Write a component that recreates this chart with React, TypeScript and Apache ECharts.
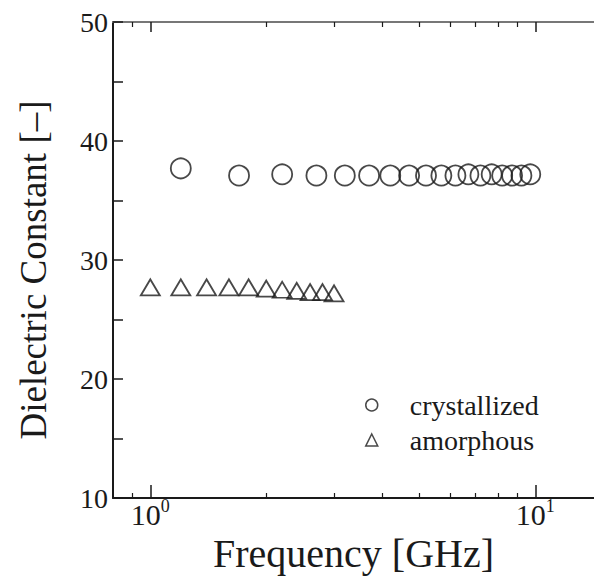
import React, { useEffect, useRef } from "react";
import * as echarts from "echarts";

const crystallizedFreq = [1.2, 1.7, 2.2, 2.7, 3.2, 3.7, 4.2, 4.7, 5.2, 5.7, 6.2, 6.7, 7.2, 7.7, 8.2, 8.7, 9.2, 9.7];
const crystallizedEps = [37.7, 37.1, 37.2, 37.1, 37.1, 37.1, 37.1, 37.1, 37.1, 37.1, 37.1, 37.2, 37.1, 37.2, 37.1, 37.1, 37.1, 37.2];
const amorphousFreq = [1.0, 1.2, 1.4, 1.6, 1.8, 2.0, 2.2, 2.4, 2.6, 2.8, 3.0];
const amorphousEps = [27.7, 27.7, 27.7, 27.7, 27.7, 27.6, 27.5, 27.4, 27.3, 27.3, 27.2];

const xMajorTicks = [1, 10];
const xMinorTicks = [0.9, 2, 3, 4, 5, 6, 7, 8, 9];
const X_MIN = 0.8;
const X_MAX = 14.2;

const FONT = "Liberation Serif";
const INK = "#1a1a1a";

export default function App() {
  const ref = useRef<HTMLDivElement>(null);
  useEffect(() => {
    document.body.style.margin = "0";
    const chart = echarts.init(ref.current!, undefined, { renderer: "svg" });
    const baseX = {
      type: "log" as const,
      min: X_MIN,
      max: X_MAX,
      gridIndex: 0,
      splitLine: { show: false },
      minorTick: { show: false },
    };
    chart.setOption({
      animation: false,
      backgroundColor: "#fff",
      grid: { left: 113, top: 22, right: 0, bottom: 78, outerBoundsMode: "none", containLabel: false },
      legend: {
        orient: "vertical",
        left: 365,
        top: 391,
        padding: 0,
        itemWidth: 12,
        itemHeight: 12,
        itemGap: 7,
        textStyle: { fontFamily: FONT, fontSize: 28, color: INK, lineHeight: 28, padding: [0, 0, 0, 27] },
        data: [
          { name: "crystallized", icon: "circle", itemStyle: { color: "rgba(0,0,0,0)", borderColor: INK, borderWidth: 1.5 } },
          { name: "amorphous", icon: "triangle", itemStyle: { color: "rgba(0,0,0,0)", borderColor: INK, borderWidth: 1.5 } },
        ],
      },
      xAxis: [
        {
          ...baseX,
          position: "bottom",
          name: "Frequency [GHz]",
          nameLocation: "middle",
          nameGap: 29,
          nameTextStyle: { fontFamily: FONT, fontSize: 40, color: INK, lineHeight: 36 },
          axisLine: { show: true, lineStyle: { color: INK, width: 2 } },
          axisTick: { show: true, inside: true, length: 13, customValues: xMajorTicks, lineStyle: { color: INK, width: 1.5 } },
          axisLabel: {
            show: true,
            customValues: xMajorTicks,
            margin: -1,
            formatter: (v: number) => `{b|10}{s|${Math.round(Math.log10(v))}}`,
            rich: {
              b: { fontFamily: FONT, fontSize: 30, color: INK, lineHeight: 32, verticalAlign: "bottom" },
              s: { fontFamily: FONT, fontSize: 18, color: INK, lineHeight: 18, verticalAlign: "top" },
            },
          },
        },
        {
          ...baseX,
          position: "bottom",
          axisLine: { show: false },
          axisTick: { show: true, inside: true, length: 5, customValues: xMinorTicks, lineStyle: { color: INK, width: 1.2 } },
          axisLabel: { show: false },
        },
        {
          ...baseX,
          position: "top",
          axisLine: { show: true, lineStyle: { color: "#777", width: 2 } },
          axisTick: { show: true, inside: true, length: 10, customValues: xMajorTicks, lineStyle: { color: INK, width: 1.5 } },
          axisLabel: { show: false },
        },
        {
          ...baseX,
          position: "top",
          axisLine: { show: false },
          axisTick: { show: true, inside: true, length: 5, customValues: xMinorTicks, lineStyle: { color: INK, width: 1.2 } },
          axisLabel: { show: false },
        },
      ],
      yAxis: {
        type: "value",
        min: 10,
        max: 50,
        interval: 10,
        name: "Dielectric Constant [–]",
        nameLocation: "middle",
        nameGap: 61,
        nameTextStyle: { fontFamily: FONT, fontSize: 37, color: INK, padding: [0, 20, 0, 0] },
        splitLine: { show: false },
        axisLine: { show: true, lineStyle: { color: INK, width: 2 } },
        axisTick: { show: true, inside: true, length: 10, lineStyle: { color: INK, width: 1.5 } },
        minorTick: { show: true, splitNumber: 2, length: 10, lineStyle: { color: INK, width: 1.5 } },
        axisLabel: { fontFamily: FONT, fontSize: 28, color: INK, margin: 5 },
      },
      series: [
        {
          name: "crystallized",
          type: "scatter",
          xAxisIndex: 0,
          symbol: "circle",
          symbolSize: 20,
          itemStyle: { color: "rgba(0,0,0,0)", borderColor: INK, borderWidth: 1.8 },
          data: crystallizedFreq.map((f, i) => [f, crystallizedEps[i]]),
        },
        {
          name: "amorphous",
          type: "scatter",
          xAxisIndex: 0,
          symbol: "triangle",
          symbolSize: [19, 16],
          itemStyle: { color: "rgba(0,0,0,0)", borderColor: INK, borderWidth: 1.8 },
          data: amorphousFreq.map((f, i) => [f, amorphousEps[i]]),
        },
      ],
    });
    return () => chart.dispose();
  }, []);
  return <div ref={ref} style={{ width: 594, height: 576 }} />;
}
